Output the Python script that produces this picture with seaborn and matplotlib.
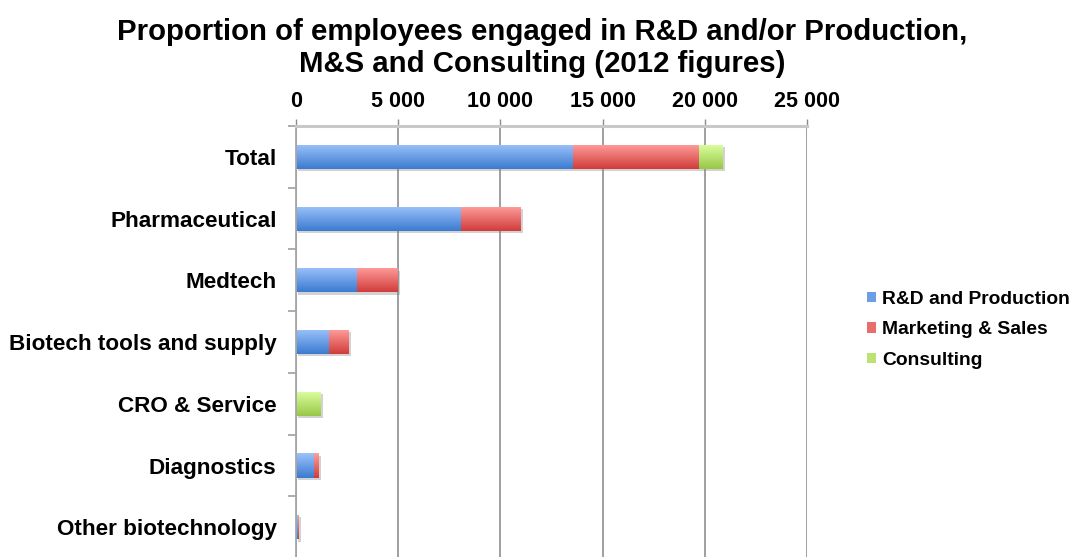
import numpy as np
import matplotlib
matplotlib.use("Agg")
import matplotlib.pyplot as plt
import matplotlib.patheffects as pe
from matplotlib.patches import Patch
from matplotlib.ticker import FixedLocator
import seaborn as sns

# Employees per segment (2012)
categories = ["Total", "Pharmaceutical", "Medtech", "Biotech tools and supply",
              "CRO & Service", "Diagnostics", "Other biotechnology"]
rd_production = [13530, 8050, 2970, 1600, 0, 850, 50]
marketing_sales = [6140, 2950, 2010, 960, 0, 260, 60]
consulting = [1210, 0, 0, 0, 1190, 0, 0]

series_names = ["R&D and Production", "Marketing & Sales", "Consulting"]
x_ticks = [0, 5000, 10000, 15000, 20000, 25000]
x_tick_labels = ["0", "5 000", "10 000", "15 000", "20 000", "25 000"]

title = ("Proportion of employees engaged in R&D and/or Production,\n"
         "M&S and Consulting (2012 figures)")

# light (top) / dark (bottom) shades for each series
shades = {
    "R&D and Production": ("#9cc2fb", "#3b7bd0"),
    "Marketing & Sales": ("#ff9e9c", "#d03c3a"),
    "Consulting": ("#dcffa0", "#98c746"),
}

sns.set_theme(style="white")
plt.rcParams["font.family"] = ["Liberation Sans", "DejaVu Sans"]
plt.rcParams["font.weight"] = "bold"
plt.rcParams["text.color"] = "black"
plt.rcParams["xtick.color"] = "black"
plt.rcParams["ytick.color"] = "black"

fig = plt.figure(figsize=(10.73, 5.57), dpi=100)
ax = fig.add_axes([0.2759, -0.002, 0.4763, 0.7758])

rd = np.array(rd_production, dtype=float)
ms = np.array(marketing_sales, dtype=float)
cs = np.array(consulting, dtype=float)

# stacked as overlapping cumulative bars, outermost first
layers = [
    ("Consulting", rd + ms + cs),
    ("Marketing & Sales", rd + ms),
    ("R&D and Production", rd),
]


def shade_bars(ax, patches, top, bottom, z):
    t = np.linspace(0, 1, 64)[:, None, None]
    rgb = (1 - t) * np.array(matplotlib.colors.to_rgb(top)) + t * np.array(
        matplotlib.colors.to_rgb(bottom))
    for p in patches:
        x0, y0 = p.get_x(), p.get_y()
        w, h = p.get_width(), p.get_height()
        if w <= 0:
            continue
        im = ax.imshow(rgb, extent=(x0, x0 + w, y0 + h, y0), origin="upper",
                       aspect="auto", zorder=z, interpolation="bilinear")
        im.set_clip_path(p)


z = 2.0
for i, (name, vals) in enumerate(layers):
    before = len(ax.patches)
    sns.barplot(x=vals, y=categories, orient="h", color=shades[name][1],
                width=0.39, ax=ax, zorder=z, linewidth=0, saturation=1)
    new = ax.patches[before:]
    if i == 0:
        for p in new:
            if p.get_width() > 0:
                p.set_path_effects([
                    pe.SimplePatchShadow(offset=(1.6, -1.6), shadow_rgbFace="#808080",
                                         alpha=0.35),
                    pe.Normal()])
    shade_bars(ax, new, shades[name][0], shades[name][1], z + 0.05)
    z += 0.1

ax.set_xlim(0, 25000)
ax.set_ylim(len(categories) - 0.5, -0.5)
ax.set_xlabel("")
ax.set_ylabel("")

# value axis on top
ax.xaxis.tick_top()
ax.set_xticks(x_ticks)
ax.set_xticklabels(x_tick_labels, fontsize=15.5, fontweight="bold", color="black")
ax.tick_params(axis="x", which="major", top=True, bottom=False, direction="out",
               length=5, width=1, color="#8c8c8c", pad=5)
ax.grid(axis="x", color="#8f8f8f", linewidth=1.2)
ax.grid(axis="y", visible=False)
ax.set_axisbelow(True)

# category axis
ax.set_yticks(range(len(categories)))
ax.set_yticklabels(categories, fontsize=16.2, fontweight="bold", color="black")
ax.yaxis.set_minor_locator(FixedLocator(np.arange(-0.5, len(categories), 1.0)))
ax.tick_params(axis="y", which="major", left=True, length=0, pad=14)
ax.tick_params(axis="y", which="minor", left=True, length=5.5, width=1.2,
               color="#a0a0a0", direction="out")

for side in ("right", "bottom"):
    ax.spines[side].set_visible(False)
ax.spines["top"].set_color("#c8c8c8")
ax.spines["top"].set_linewidth(2.2)
ax.spines["left"].set_color("#a6a6a6")
ax.spines["left"].set_linewidth(1.3)

fig.suptitle(title, x=0.505, y=1 - 18 / 557, va="top", fontsize=21.2,
             fontweight="bold", linespacing=1.2, color="black")

handles = [Patch(facecolor=matplotlib.colors.to_hex(
    0.5 * np.array(matplotlib.colors.to_rgb(shades[n][0]))
    + 0.5 * np.array(matplotlib.colors.to_rgb(shades[n][1]))), edgecolor="none", label=n)
    for n in series_names]
fig.legend(handles=handles, loc="center left",
           bbox_to_anchor=(867 / 1073, 1 - 330 / 557), frameon=False,
           prop={"size": 13.9, "weight": "bold"}, handlelength=0.45,
           handleheight=0.45, handletextpad=0.35, labelspacing=0.7,
           borderpad=0, borderaxespad=0, labelcolor="black")

fig.savefig("out.png", dpi=100)
